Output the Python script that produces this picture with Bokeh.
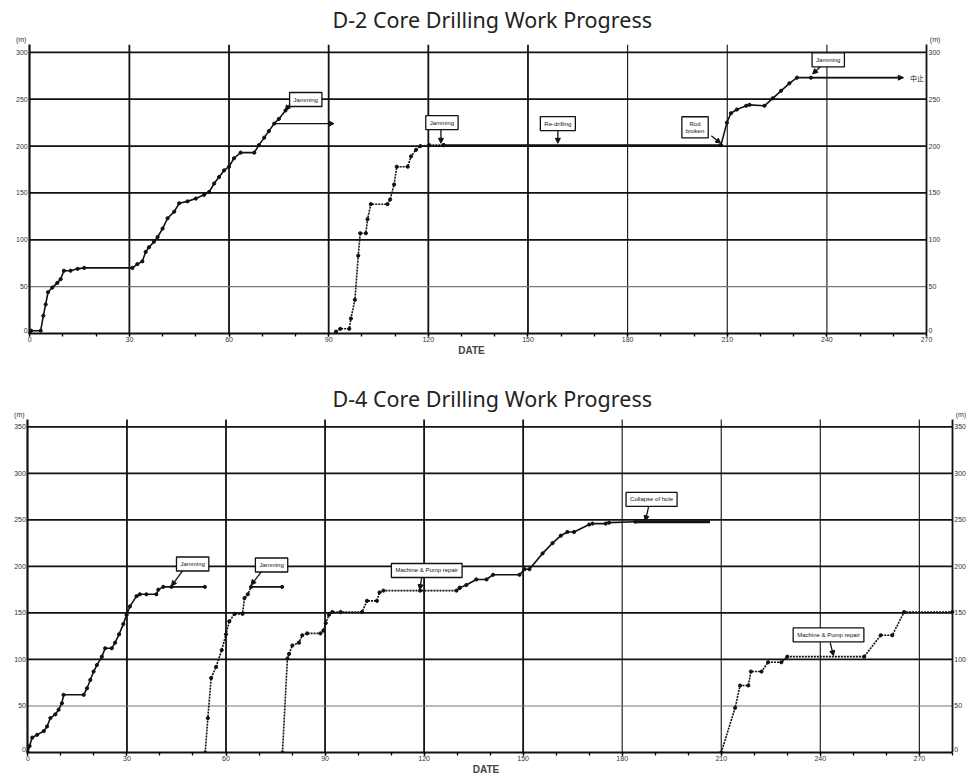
from bokeh.plotting import figure
from bokeh.models import (FixedTicker, LinearAxis, Range1d, Label, Arrow,
                          NormalHead, ColumnDataSource)
from bokeh.layouts import column
from bokeh.embed import file_html
from bokeh.resources import INLINE

# ---------------- D-2 data (day, depth m) ----------------
d2_s1_day = [0, 0.4, 3.3, 4.1, 4.8, 5.5, 6.8, 8.3, 9.3, 10.3, 12.3, 14.4, 16.4, 30.9, 32.4,
             33.9, 34.9, 35.9, 37.4, 38.5, 40, 41.5, 43.5, 45, 47.5, 50, 52.5, 54, 55.5,
             57, 58.5, 60, 61.5, 63.5, 67.6, 69, 70.6, 72, 73.6, 75, 77]
d2_s1_m = [0, 3, 3, 19, 31, 44, 49, 54, 58, 67, 67, 69, 70, 70, 74,
           77, 87, 92, 98, 103, 112, 123, 130, 139, 141, 144, 148, 151, 160,
           167, 174, 178, 187, 193, 193, 201, 209, 216, 224, 229, 238]

d2_s2_day = [92.2, 93.5, 96.2, 96.7, 97.9, 98.9, 99.5, 101.2, 101.7, 102.7, 107.7, 108.5,
             109.7, 110.5, 113.8, 114.8, 116.3, 117.6, 120.3, 124.6]
d2_s2_m = [2, 5, 5, 16, 36, 83, 107, 107, 122, 138, 138, 143,
           159, 178, 178, 189, 196, 200, 201, 201]

d2_s3_day = [124.6, 208.1, 209.9, 211.1, 212.9, 215.7, 216.7, 221.2, 223.7, 226.2, 228.7,
             231, 235.2, 263]
d2_s3_m = [201, 201, 225, 235, 239, 243, 244, 243, 251, 259, 267, 273, 273, 273]

# branch arrow after first hole
d2_branch_day = [74.1, 91.6]
d2_branch_m = [224, 224]

d2_note_text = ["Jamming", "Jamming", "Re-drilling", "Rod\nbroken", "Jamming"]
d2_note_x = [83.1, 124.1, 159.0, 200.3, 240.4]
d2_note_y = [249.7, 225, 224, 220, 292]
d2_lead_x0 = [78.2, 123.8, 159.0, 205.2, 238.4]
d2_lead_y0 = [244, 217.5, 216, 211, 286]
d2_lead_x1 = [77.0, 123.8, 159.0, 208.0, 235.7]
d2_lead_y1 = [238, 203, 203, 203, 277]
d2_stop_text = "中止"

# ---------------- D-4 data (day, depth m) ----------------
d4_s1_day = [0, 0.5, 1.3, 2.8, 4.8, 5.8, 6.8, 8.3, 9.3, 10.3, 10.8, 16.9, 17.9, 18.9,
             19.9, 20.9, 22.4, 23.4, 25.4, 26.4, 27.6, 28.9, 29.9, 30.9, 32.9, 33.9,
             35.9, 38.9, 39.5, 41, 43.5, 53.6]
d4_s1_m = [0, 7, 16, 19, 23, 28, 37, 41, 46, 53, 62, 62, 69, 78,
           87, 94, 103, 112, 112, 118, 127, 138, 148, 157, 168, 170,
           170, 170, 175, 178, 178, 178]

d4_s2_day = [53.7, 54.5, 55.5, 57, 58.7, 60, 61, 62.6, 65, 65.6, 66.6, 67.6, 77]
d4_s2_m = [0, 37, 80, 92, 110, 127, 141, 149, 149, 166, 170, 178, 178]

d4_s3a_day = [77.1, 78.6, 79.1, 80.1, 82.1, 83.1, 84.6, 88.6, 89.5, 90.2, 91.2, 92.2,
              94.7, 101.2, 102.7, 105.7, 106.5, 107.7, 118.8, 129.8, 130.8]
d4_s3a_m = [0, 101, 106, 115, 118, 126, 128, 128, 131, 139, 148, 151,
            151, 151, 163, 163, 172, 174, 174, 174, 177]

d4_s3b_day = [130.8, 132.8, 135.8, 138.9, 140.9, 148.9, 150.4, 151.9, 155.9, 158.9,
              161.4, 163.4, 165.4, 170, 171, 175, 176, 184]
d4_s3b_m = [177, 180, 186, 186, 191, 191, 197, 197, 214, 225,
            233, 237, 237, 245, 246, 246, 247, 248]

d4_s3c_day = [184, 206.6]
d4_s3c_m = [248, 248]

d4_s4_day = [210, 214.2, 215.7, 218.2, 219, 222.2, 224.2, 228.2, 230, 253.3, 258.3,
             261.8, 265.4, 280]
d4_s4_m = [0, 48, 72, 72, 87, 87, 97, 97, 103, 103, 126, 126, 151, 151]

d4_note_text = ["Jamming", "Jamming", "Machine & Pump repair", "Collapse of hole",
                "Machine & Pump repair"]
d4_note_x = [49.9, 73.8, 120.8, 188.9, 242.5]
d4_note_y = [202.6, 201.5, 195.6, 272, 126.4]
d4_lead_x0 = [47.0, 71.1, 119.3, 188.0, 243.0]
d4_lead_y0 = [196, 196, 189, 264, 118]
d4_lead_x1 = [43.5, 67.6, 118.7, 187.0, 244.0]
d4_lead_y1 = [179, 180, 175, 249, 104]

# ---------------- styling ----------------
TICK_FONT = "Liberation Sans"
BLK = "#111111"


def make_fig(title, xmax, ymax, ytop, x_lo, x_hi, px_per_day, frame_h,
             title_standoff, min_top):
    frame_w = int(round((x_hi - x_lo) * px_per_day))
    p = figure(frame_width=frame_w, frame_height=frame_h,
               x_range=Range1d(x_lo, x_hi), y_range=Range1d(0, ytop),
               output_backend="svg", toolbar_location=None,
               min_border_left=1, min_border_right=0, min_border_top=min_top,
               min_border_bottom=0, title=title)
    p.title.align = "left"
    p.title.offset = 331
    p.title.text_font = "Noto Sans"
    p.title.text_font_size = "21.5px"
    p.title.text_font_style = "normal"
    p.title.text_color = "#222222"
    p.title.standoff = title_standoff
    p.outline_line_color = None
    p.grid.visible = False
    p.background_fill_color = "white"

    xt = list(range(0, xmax + 1, 30))
    minor = list(range(0, xmax + 1, 10))
    yt = list(range(0, ymax + 1, 50))

    # grid lines
    gtop = ymax + 8
    thick_x = [x for x in xt if 0 < x < 180]
    thin_x = [x for x in xt if 180 <= x < xmax]
    p.multi_line(xs=[[x, x] for x in thick_x], ys=[[0, gtop]] * len(thick_x),
                 line_color=BLK, line_width=1.8)
    p.multi_line(xs=[[x, x] for x in thin_x], ys=[[0, gtop]] * len(thin_x),
                 line_color=BLK, line_width=1.1)
    hy = [y for y in yt if y > 0]
    p.multi_line(xs=[[0, xmax]] * len(hy), ys=[[y, y] for y in hy],
                 line_color=[("#777777" if y == 50 else BLK) for y in hy],
                 line_width=[(1.2 if y == 50 else 1.8) for y in hy])

    # x axis
    p.xaxis.ticker = FixedTicker(ticks=xt, minor_ticks=minor)
    p.xaxis.bounds = (0, xmax)
    p.xaxis.axis_label = "DATE"
    p.xaxis.axis_label_text_font = "Liberation Sans"
    p.xaxis.axis_label_text_font_style = "bold"
    p.xaxis.axis_label_text_font_size = "10px"
    p.xaxis.axis_label_standoff = 0
    p.xaxis.major_label_standoff = 0
    p.xaxis.major_tick_out = 3
    p.xaxis.major_tick_in = 0
    p.xaxis.minor_tick_out = 3
    p.xaxis.minor_tick_in = 0
    p.xaxis.major_tick_line_width = 1.3
    p.xaxis.minor_tick_line_width = 1.3
    p.xaxis.axis_line_width = 2.2
    p.xaxis.axis_line_color = BLK
    p.xaxis.major_label_text_font = TICK_FONT
    p.xaxis.major_label_text_font_size = "7px"
    p.xaxis.major_label_text_color = "#333333"

    # y axes drawn at day 0 and at the last day
    def style_y(ax, loc, width):
        ax.ticker = FixedTicker(ticks=yt)
        ax.fixed_location = loc
        ax.bounds = (0, gtop)
        ax.major_tick_out = 0
        ax.major_tick_in = 0
        ax.minor_tick_line_color = None
        ax.major_label_standoff = 2
        ax.major_label_overrides = {0: ""}
        ax.axis_line_width = width
        ax.axis_line_color = BLK
        ax.major_label_text_font = TICK_FONT
        ax.major_label_text_font_size = "7px"
        ax.major_label_text_color = "#333333"

    style_y(p.yaxis[0], 0, 2.2)
    ra = LinearAxis()
    p.add_layout(ra, "right")
    style_y(ra, xmax, 1.8)

    # the zero labels sit just above the x axis
    for xx, off, al in ((0, -2, "right"), (xmax, 2, "left")):
        p.add_layout(Label(x=xx, y=yt[0], x_offset=off, y_offset=1, text=str(yt[0]),
                           text_align=al, text_baseline="bottom", text_font=TICK_FONT,
                           text_font_size="7px", text_color="#333333"))
    for xx, al in ((-1.0, "right"), (xmax + 1.0, "left")):
        p.add_layout(Label(x=xx, y=ymax + 13.5, text="(m)", text_align=al,
                           text_baseline="middle", text_font=TICK_FONT,
                           text_font_size="7px", text_color="#333333"))
    return p


def add_series(p, xs, ys, dash="solid", width=1.6, markers=True, skip_last=False,
               solid_tail=False):
    if solid_tail:
        p.line(xs[:-1], ys[:-1], line_color=BLK, line_width=width, line_dash=dash)
        p.line(xs[-2:], ys[-2:], line_color=BLK, line_width=width)
    else:
        p.line(xs, ys, line_color=BLK, line_width=width, line_dash=dash)
    if markers:
        mx = xs[:-1] if skip_last else xs
        my = ys[:-1] if skip_last else ys
        p.scatter(mx, my, size=3.2, color=BLK)


def add_notes(p, texts, nx, ny, x0, y0, x1, y1):
    src = ColumnDataSource(dict(x0=x0, y0=y0, x1=x1, y1=y1))
    p.add_layout(Arrow(end=NormalHead(size=5, fill_color=BLK, line_color=BLK),
                       x_start="x0", y_start="y0", x_end="x1", y_end="y1",
                       source=src, line_color=BLK, line_width=1.3))
    for t, x, y in zip(texts, nx, ny):
        p.add_layout(Label(x=x, y=y, text=t, text_align="center", text_baseline="middle",
                           text_font="Liberation Sans", text_font_size="6px",
                           text_color=BLK, border_line_color=BLK, border_line_width=1.3,
                           background_fill_color="white", padding=4))


# ---------------- D-2 ----------------
p1 = make_fig("D-2 Core Drilling Work Progress", 270, 300, 318, -8.5, 274.5, 3.32, 298, 4, 33)
add_series(p1, d2_s1_day, d2_s1_m)
add_series(p1, d2_s2_day, d2_s2_m, dash="2 1")
add_series(p1, d2_s3_day, d2_s3_m, skip_last=True)
p1.add_layout(Arrow(end=NormalHead(size=5, fill_color=BLK, line_color=BLK),
                    x_start=d2_branch_day[0], y_start=d2_branch_m[0],
                    x_end=d2_branch_day[1], y_end=d2_branch_m[1],
                    line_color=BLK, line_width=1.3))
p1.add_layout(Arrow(end=NormalHead(size=5, fill_color=BLK, line_color=BLK),
                    x_start=d2_s3_day[-2], y_start=d2_s3_m[-2],
                    x_end=d2_s3_day[-1], y_end=d2_s3_m[-1],
                    line_color=BLK, line_width=1.3))
p1.add_layout(Label(x=d2_s3_day[-1] + 2, y=d2_s3_m[-1], text=d2_stop_text,
                    text_align="left", text_baseline="middle",
                    text_font="Noto Sans CJK JP", text_font_size="7px", text_color=BLK))
add_notes(p1, d2_note_text, d2_note_x, d2_note_y, d2_lead_x0, d2_lead_y0,
          d2_lead_x1, d2_lead_y1)

# ---------------- D-4 ----------------
p2 = make_fig("D-4 Core Drilling Work Progress", 280, 350, 365.4, -8.0, 285.5, 3.3, 340, 0, 0)
add_series(p2, d4_s1_day, d4_s1_m)
add_series(p2, d4_s2_day, d4_s2_m, dash="2 1", solid_tail=True)
add_series(p2, d4_s3a_day, d4_s3a_m, dash="2 1")
add_series(p2, d4_s3b_day, d4_s3b_m)
add_series(p2, d4_s3c_day, d4_s3c_m, width=2.8, markers=False)
add_series(p2, d4_s4_day, d4_s4_m, dash="2 1")
add_notes(p2, d4_note_text, d4_note_x, d4_note_y, d4_lead_x0, d4_lead_y0,
          d4_lead_x1, d4_lead_y1)

layout = column(p1, p2, spacing=23)
open("out.html", "w").write(file_html(layout, INLINE))
